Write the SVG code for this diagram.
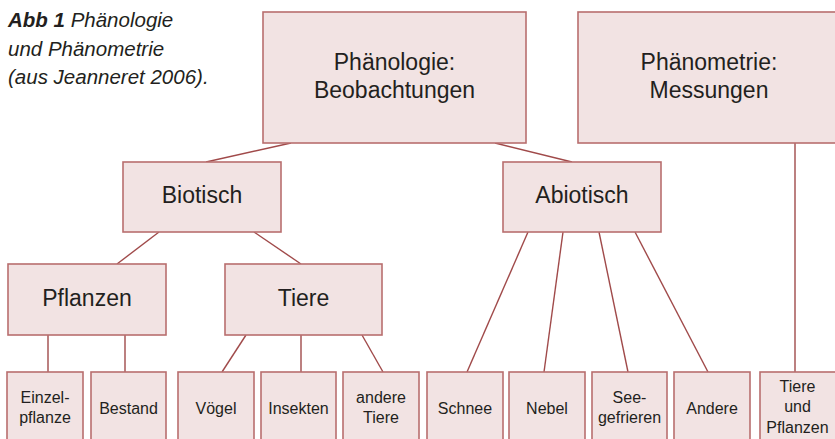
<svg xmlns="http://www.w3.org/2000/svg" width="835" height="439" viewBox="0 0 835 439">
<style>
.box{fill:#f2e3e3;stroke:#b86e6e;stroke-width:1.6}
.ln{stroke:#a04a4a;stroke-width:1.4;fill:none}
.t{font-family:"Liberation Sans",Arial,sans-serif;fill:#231f20;text-anchor:middle}
.big{font-size:23px}
.mid{font-size:23px}
.sm{font-size:16px}
.cap{font-family:"Liberation Sans",Arial,sans-serif;font-style:italic;font-size:20.5px;fill:#231f20}
</style>
<rect width="835" height="439" fill="#ffffff"/>
<g id="caption">
<text class="cap" x="8" y="27"><tspan font-weight="bold">Abb 1</tspan> Phänologie</text>
<text class="cap" x="8" y="56">und Phänometrie</text>
<text class="cap" x="8" y="84">(aus Jeanneret 2006).</text>
</g>
<g id="connectors">
<line class="ln" x1="291" y1="143" x2="206" y2="162"/>
<line class="ln" x1="495" y1="143" x2="572" y2="162"/>
<line class="ln" x1="795" y1="143" x2="795" y2="372"/>
<line class="ln" x1="159" y1="232" x2="117" y2="264"/>
<line class="ln" x1="254" y1="232" x2="301" y2="264"/>
<line class="ln" x1="48" y1="335" x2="48" y2="372"/>
<line class="ln" x1="125" y1="335" x2="125" y2="372"/>
<line class="ln" x1="246" y1="335" x2="222" y2="372"/>
<line class="ln" x1="301" y1="335" x2="301" y2="372"/>
<line class="ln" x1="362" y1="335" x2="383" y2="372"/>
<line class="ln" x1="528" y1="232" x2="467" y2="372"/>
<line class="ln" x1="563" y1="232" x2="544" y2="372"/>
<line class="ln" x1="599" y1="232" x2="628" y2="372"/>
<line class="ln" x1="635" y1="232" x2="708" y2="372"/>
</g>
<g id="phaenologie">
<rect class="box" x="263" y="12" width="263" height="131"/>
<text class="t big" x="394.5" y="70">Phänologie:</text>
<text class="t big" x="394.5" y="98">Beobachtungen</text>
</g>
<g id="phaenometrie">
<rect class="box" x="578" y="12" width="262" height="131"/>
<text class="t big" x="709" y="70">Phänometrie:</text>
<text class="t big" x="709" y="98">Messungen</text>
</g>
<g id="biotisch">
<rect class="box" x="123" y="162" width="158" height="70"/>
<text class="t mid" x="202" y="203">Biotisch</text>
</g>
<g id="abiotisch">
<rect class="box" x="503" y="162" width="158" height="70"/>
<text class="t mid" x="582" y="203">Abiotisch</text>
</g>
<g id="pflanzen">
<rect class="box" x="8" y="264" width="158" height="71"/>
<text class="t mid" x="87" y="306">Pflanzen</text>
</g>
<g id="tiere">
<rect class="box" x="225" y="264" width="157" height="71"/>
<text class="t mid" x="303.5" y="306">Tiere</text>
</g>
<g id="einzelpflanze">
<rect class="box" x="7" y="372" width="76" height="80"/>
<text class="t sm" x="45" y="403">Einzel-</text>
<text class="t sm" x="45" y="423">pflanze</text>
</g>
<g id="bestand">
<rect class="box" x="91" y="372" width="75" height="80"/>
<text class="t sm" x="128.5" y="414">Bestand</text>
</g>
<g id="voegel">
<rect class="box" x="178" y="372" width="76" height="80"/>
<text class="t sm" x="216" y="414">Vögel</text>
</g>
<g id="insekten">
<rect class="box" x="261" y="372" width="75" height="80"/>
<text class="t sm" x="298.5" y="414">Insekten</text>
</g>
<g id="anderetiere">
<rect class="box" x="343" y="372" width="76" height="80"/>
<text class="t sm" x="381" y="403">andere</text>
<text class="t sm" x="381" y="423">Tiere</text>
</g>
<g id="schnee">
<rect class="box" x="427" y="372" width="76" height="80"/>
<text class="t sm" x="465" y="414">Schnee</text>
</g>
<g id="nebel">
<rect class="box" x="509" y="372" width="76" height="80"/>
<text class="t sm" x="547" y="414">Nebel</text>
</g>
<g id="seegefrieren">
<rect class="box" x="592" y="372" width="75" height="80"/>
<text class="t sm" x="629.5" y="403">See-</text>
<text class="t sm" x="629.5" y="423">gefrieren</text>
</g>
<g id="andere">
<rect class="box" x="674" y="372" width="76" height="80"/>
<text class="t sm" x="712" y="414">Andere</text>
</g>
<g id="tiereundpflanzen">
<rect class="box" x="760" y="372" width="80" height="80"/>
<text class="t sm" x="797.5" y="392">Tiere</text>
<text class="t sm" x="797.5" y="412">und</text>
<text class="t sm" x="797.5" y="433">Pflanzen</text>
</g>
</svg>
